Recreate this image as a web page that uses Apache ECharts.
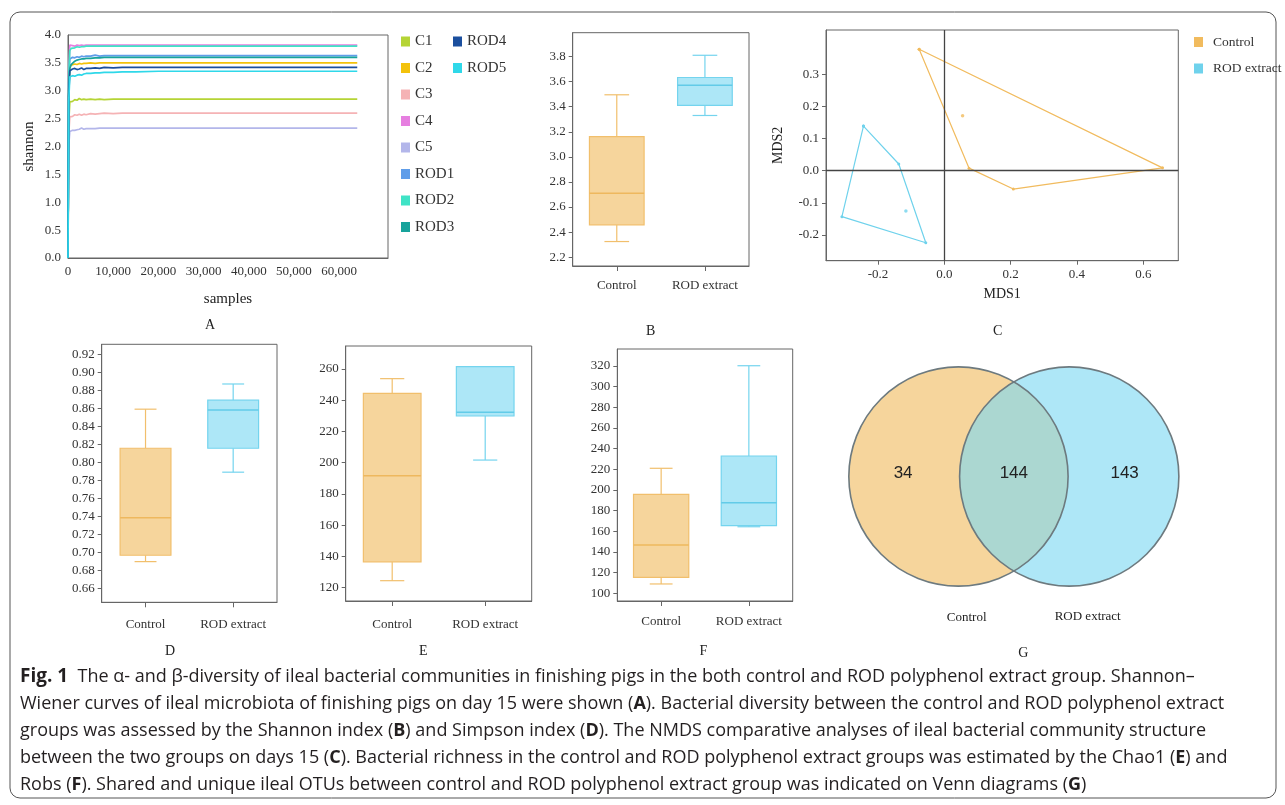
<!DOCTYPE html>
<html><head><meta charset="utf-8">
<script src="https://cdn.jsdelivr.net/npm/echarts@6/dist/echarts.min.js"></script>
<style>html,body{margin:0;padding:0;background:#fff}#c{width:1285px;height:805px}</style>
</head><body><div id="c"></div>
<script>
// ---------- DATA ----------
const samples = [0, 150, 400, 700, 1000, 1500, 2000, 2500, 3000, 3500, 4000, 5000, 6000, 7000, 8000, 10000, 12000, 15000, 20000, 30000, 40000, 50000, 64000];
const shannonC1   = [0, 2.40, 2.80, 2.82, 2.81, 2.84, 2.83, 2.86, 2.84, 2.85, 2.84, 2.85, 2.84, 2.85, 2.84, 2.85, 2.85, 2.85, 2.85, 2.85, 2.85, 2.85, 2.85];
const shannonC2   = [0, 3.00, 3.42, 3.46, 3.45, 3.48, 3.47, 3.49, 3.48, 3.49, 3.49, 3.50, 3.49, 3.50, 3.50, 3.50, 3.50, 3.50, 3.50, 3.50, 3.50, 3.50, 3.50];
const shannonC3   = [0, 2.20, 2.53, 2.55, 2.54, 2.57, 2.56, 2.58, 2.56, 2.58, 2.57, 2.59, 2.58, 2.59, 2.60, 2.59, 2.60, 2.60, 2.60, 2.60, 2.60, 2.60, 2.60];
const shannonC4   = [0, 3.30, 3.82, 3.79, 3.81, 3.80, 3.82, 3.81, 3.82, 3.81, 3.82, 3.82, 3.82, 3.82, 3.82, 3.82, 3.82, 3.82, 3.82, 3.82, 3.82, 3.82, 3.82];
const shannonC5   = [0, 2.00, 2.27, 2.28, 2.29, 2.29, 2.30, 2.31, 2.33, 2.31, 2.32, 2.32, 2.32, 2.33, 2.33, 2.33, 2.33, 2.33, 2.33, 2.33, 2.33, 2.33, 2.33];
const shannonROD1 = [0, 3.10, 3.57, 3.58, 3.60, 3.59, 3.61, 3.60, 3.62, 3.61, 3.62, 3.62, 3.64, 3.62, 3.63, 3.63, 3.63, 3.63, 3.63, 3.63, 3.63, 3.63, 3.63];
const shannonROD2 = [0, 3.20, 3.72, 3.76, 3.78, 3.77, 3.79, 3.78, 3.79, 3.79, 3.80, 3.80, 3.80, 3.80, 3.80, 3.80, 3.80, 3.80, 3.80, 3.80, 3.80, 3.80, 3.80];
const shannonROD3 = [0, 3.00, 3.40, 3.47, 3.50, 3.53, 3.55, 3.56, 3.57, 3.57, 3.58, 3.58, 3.59, 3.59, 3.60, 3.60, 3.60, 3.60, 3.60, 3.60, 3.60, 3.60, 3.60];
const shannonROD4 = [0, 2.90, 3.36, 3.38, 3.39, 3.40, 3.38, 3.39, 3.41, 3.38, 3.40, 3.40, 3.41, 3.40, 3.42, 3.41, 3.42, 3.42, 3.42, 3.42, 3.42, 3.42, 3.42];
const shannonROD5 = [0, 2.80, 3.25, 3.22, 3.27, 3.26, 3.28, 3.29, 3.28, 3.30, 3.31, 3.31, 3.32, 3.32, 3.33, 3.33, 3.34, 3.34, 3.35, 3.35, 3.35, 3.35, 3.35];
const sampleNames = ['C1','C2','C3','C4','C5','ROD1','ROD2','ROD3','ROD4','ROD5'];
const sampleTicks = [0, 10000, 20000, 30000, 40000, 50000, 60000];
const shannonTicksA = [0, 0.5, 1.0, 1.5, 2.0, 2.5, 3.0, 3.5, 4.0];

const groups = ['Control', 'ROD extract'];
// box stats: [min, Q1, median, Q3, max]
const shannonBox = [[2.325, 2.458, 2.71, 3.162, 3.495], [3.33, 3.41, 3.572, 3.633, 3.81]];
const simpsonBox = [[0.6896, 0.6967, 0.7384, 0.8156, 0.859], [0.789, 0.8156, 0.858, 0.869, 0.887]];
const chao1Box   = [[124.5, 136.6, 191.7, 244.4, 253.8], [201.7, 229.9, 232.3, 261.5, 261.5]];
const robsBox    = [[109, 115.4, 146.7, 195.8, 221], [164.4, 165.4, 187.7, 232.9, 320.3]];
const shannonTicksB = [2.2, 2.4, 2.6, 2.8, 3.0, 3.2, 3.4, 3.6, 3.8];
const simpsonTicks = [0.66, 0.68, 0.70, 0.72, 0.74, 0.76, 0.78, 0.80, 0.82, 0.84, 0.86, 0.88, 0.90, 0.92];
const chao1Ticks = [120, 140, 160, 180, 200, 220, 240, 260];
const robsTicks = [100, 120, 140, 160, 180, 200, 220, 240, 260, 280, 300, 320];

// NMDS points (hull order first, inner point last)
const nmdsControl = [[-0.076, 0.378], [0.658, 0.009], [0.208, -0.057], [0.0745, 0.008], [0.055, 0.171]];
const nmdsROD     = [[-0.244, 0.139], [-0.1375, 0.021], [-0.056, -0.224], [-0.309, -0.143], [-0.116, -0.125]];
const mds1Ticks = [-0.2, 0.0, 0.2, 0.4, 0.6];
const mds2Ticks = [-0.2, -0.1, 0.0, 0.1, 0.2, 0.3];

const vennCounts = [34, 144, 143]; // Control only, shared, ROD only

// ---------- STYLE ----------
const SERIF = 'Liberation Serif';
const lineColors = ['#b5d435', '#f3c20c', '#f5b3b5', '#e67fe0', '#b3b6ea', '#5f9de9', '#3fe3c6', '#17a39b', '#1b4f9e', '#2fd8e9'];
const BOX_FILL = ['#f6d59c', '#ade7f7'];
const BOX_STROKE = ['#f1bf6c', '#74d4ee'];
const MED = ['#eeb85e', '#62cbe8'];
const AX = '#666';
const labelStyle = {color: '#333', fontFamily: SERIF, fontSize: 13};

const chart = echarts.init(document.getElementById('c'), null, {renderer: 'canvas'});

function grid(l, t, w, h, show) {
  return {left: l, top: t, width: w, height: h, show: show !== false, borderColor: AX, borderWidth: 1,
          backgroundColor: 'transparent', containLabel: false, outerBoundsMode: 'none'};
}
function valY(gi, min, max, ticks, dec, extra) {
  return Object.assign({
    type: 'value', gridIndex: gi, min: min, max: max, splitLine: {show: false},
    axisLine: {show: true, lineStyle: {color: AX}},
    axisTick: {show: true, length: 4, customValues: ticks, lineStyle: {color: AX}},
    axisLabel: Object.assign({customValues: ticks, margin: 7, formatter: v => Number(v).toFixed(dec)}, labelStyle)
  }, extra || {});
}
function catX(gi, margin) {
  return {
    type: 'category', gridIndex: gi, data: groups,
    axisLine: {show: true, lineStyle: {color: AX}},
    axisTick: {show: true, alignWithLabel: true, length: 5, lineStyle: {color: AX}},
    axisLabel: Object.assign({margin: margin, interval: 0}, labelStyle),
    splitLine: {show: false}
  };
}
function boxRender(bwF, cwF) {
  return function (p, api) {
    const i = p.dataIndex;
    const cat = api.value(0);
    const band = api.size([1, 0])[0];
    const cx = api.coord([cat, api.value(3)])[0];
    const y = k => api.coord([cat, api.value(k)])[1];
    const yMin = y(1), yQ1 = y(2), yMed = y(3), yQ3 = y(4), yMax = y(5);
    const bw = band * bwF, cw = band * cwF;
    const ls = {stroke: BOX_STROKE[i], lineWidth: 1.2};
    return {type: 'group', children: [
      {type: 'line', shape: {x1: cx, y1: yMax, x2: cx, y2: yQ3}, style: ls},
      {type: 'line', shape: {x1: cx, y1: yQ1, x2: cx, y2: yMin}, style: ls},
      {type: 'line', shape: {x1: cx - cw / 2, y1: yMax, x2: cx + cw / 2, y2: yMax}, style: ls},
      {type: 'line', shape: {x1: cx - cw / 2, y1: yMin, x2: cx + cw / 2, y2: yMin}, style: ls},
      {type: 'rect', shape: {x: cx - bw / 2, y: yQ3, width: bw, height: yQ1 - yQ3}, style: {fill: BOX_FILL[i], stroke: BOX_STROKE[i], lineWidth: 1.2}},
      {type: 'line', shape: {x1: cx - bw / 2, y1: yMed, x2: cx + bw / 2, y2: yMed}, style: {stroke: MED[i], lineWidth: 1.5}}
    ]};
  };
}
function boxSeries(gi, stats, bwF, cwF) {
  return {type: 'custom', xAxisIndex: gi, yAxisIndex: gi, clip: false,
          data: stats.map((s, i) => [i].concat(s)), encode: {x: 0, y: [1, 2, 3, 4, 5]},
          renderItem: boxRender(bwF, cwF), silent: true};
}

const shannonSeriesData = [shannonC1, shannonC2, shannonC3, shannonC4, shannonC5, shannonROD1, shannonROD2, shannonROD3, shannonROD4, shannonROD5];

const series = [];
// Panel A: rarefaction lines
sampleNames.forEach((n, k) => {
  series.push({type: 'line', name: n, xAxisIndex: 0, yAxisIndex: 0, showSymbol: false, symbol: 'none',
    color: lineColors[k], lineStyle: {width: 1.7, color: lineColors[k]},
    data: samples.map((s, j) => [s, shannonSeriesData[k][j]])});
});
// Panel B, D, E, F: boxes
series.push(boxSeries(1, shannonBox, 0.62, 0.28));
series.push(boxSeries(3, simpsonBox, 0.58, 0.25));
series.push(boxSeries(4, chao1Box, 0.62, 0.26));
series.push(boxSeries(5, robsBox, 0.63, 0.26));
// Panel C: NMDS
const NM = ['#f1bb5e', '#6fd2ec'];
series.push({type: 'line', name: 'Control', xAxisIndex: 2, yAxisIndex: 2, color: '#f5b042',
  symbol: 'circle', symbolSize: 3, itemStyle: {color: NM[0]}, lineStyle: {color: NM[0], width: 1.2},
  data: nmdsControl.slice(0, 4).concat([nmdsControl[0]]),
  markLine: {silent: true, symbol: ['none', 'none'], label: {show: false},
    lineStyle: {color: '#444', width: 1.3, type: 'solid'}, data: [{xAxis: 0}, {yAxis: 0}]}});
series.push({type: 'scatter', xAxisIndex: 2, yAxisIndex: 2, symbolSize: 3.5, itemStyle: {color: NM[0]}, data: nmdsControl.slice(4)});
series.push({type: 'line', name: 'ROD extract', xAxisIndex: 2, yAxisIndex: 2, color: '#4fd0f0',
  symbol: 'circle', symbolSize: 3, itemStyle: {color: NM[1]}, lineStyle: {color: NM[1], width: 1.2},
  data: nmdsROD.slice(0, 4).concat([nmdsROD[0]])});
series.push({type: 'scatter', xAxisIndex: 2, yAxisIndex: 2, symbolSize: 3.5, itemStyle: {color: NM[1]}, data: nmdsROD.slice(4)});
// Panel G: Venn
const VENN_FILL = ['#f6d59c', 'rgba(124,216,242,0.62)'];
series.push({type: 'custom', xAxisIndex: 6, yAxisIndex: 6, clip: false, silent: true,
  data: groups.map((g, i) => [i + 1, 0]),
  renderItem: (p, api) => {
    const c = api.coord([api.value(0), api.value(1)]);
    const s = api.size([1, 1]);
    return {type: 'circle', shape: {cx: c[0], cy: c[1], r: (s[0] + s[1]) / 2}, style: {fill: VENN_FILL[p.dataIndex]}};
  }});
series.push({type: 'custom', xAxisIndex: 6, yAxisIndex: 6, clip: false, silent: true, z: 3,
  data: groups.map((g, i) => [i + 1, 0]),
  renderItem: (p, api) => {
    const c = api.coord([api.value(0), api.value(1)]);
    const s = api.size([1, 1]);
    return {type: 'circle', shape: {cx: c[0], cy: c[1], r: (s[0] + s[1]) / 2}, style: {fill: 'none', stroke: '#6d7a7f', lineWidth: 1.6}};
  }});
series.push({type: 'custom', xAxisIndex: 6, yAxisIndex: 6, clip: false, silent: true, z: 4,
  data: vennCounts.map((v, i) => [i + 0.5, 0.03, v]),
  renderItem: (p, api) => {
    const c = api.coord([api.value(0), api.value(1)]);
    return {type: 'text', x: c[0], y: c[1], style: {text: String(api.value(2)), fill: '#222',
      fontFamily: 'Liberation Sans', fontSize: 17, align: 'center', verticalAlign: 'middle'}};
  }});

const txt = (t, x, y, size, extra) => ({type: 'text', x: x, y: y, silent: true,
  style: Object.assign({text: t, fill: '#222', fontFamily: SERIF, fontSize: size || 13, align: 'center', verticalAlign: 'middle'}, extra || {})});

const caption =
  '{fig|Fig. 1}  The α- and β-diversity of ileal bacterial communities in finishing pigs in the both control and ROD polyphenol extract group. Shannon–\n' +
  'Wiener curves of ileal microbiota of finishing pigs on day 15 were shown ({b|A}). Bacterial diversity between the control and ROD polyphenol extract\n' +
  'groups was assessed by the Shannon index ({b|B}) and Simpson index ({b|D}). The NMDS comparative analyses of ileal bacterial community structure\n' +
  'between the two groups on days 15 ({b|C}). Bacterial richness in the control and ROD polyphenol extract groups was estimated by the Chao1 ({b|E}) and\n' +
  'Robs ({b|F}). Shared and unique ileal OTUs between control and ROD polyphenol extract group was indicated on Venn diagrams ({b|G})';

const option = {
  animation: false,
  backgroundColor: '#fff',
  grid: [
    grid(68, 35, 320, 223),          // A
    grid(572.7, 32.7, 176.3, 233.3), // B
    grid(826, 30, 352.3, 230.7),     // C
    grid(101.7, 344.3, 175.3, 258),  // D
    grid(345.7, 346, 186, 255),      // E
    grid(617.3, 349, 175.4, 252),    // F
    grid(847.7, 368, 332.3, 217, false) // G
  ],
  xAxis: [
    {type: 'value', gridIndex: 0, min: 0, max: 70800, interval: 10000, splitLine: {show: false},
     axisLine: {show: true, lineStyle: {color: AX}}, axisTick: {show: false},
     axisLabel: Object.assign({customValues: sampleTicks, margin: 7,
       formatter: v => (v % 10000 === 0 ? Number(v).toLocaleString('en-US') : '')}, labelStyle),
     name: 'samples', nameLocation: 'middle', nameGap: 34,
     nameTextStyle: {color: '#222', fontFamily: SERIF, fontSize: 15}},
    catX(1, 13),
    {type: 'value', gridIndex: 2, min: -0.357, max: 0.7056, splitLine: {show: false},
     axisLine: {show: true, onZero: false, lineStyle: {color: AX}},
     axisTick: {show: true, length: 4, customValues: mds1Ticks, lineStyle: {color: AX}},
     axisLabel: Object.assign({customValues: mds1Ticks, margin: 7, formatter: v => Number(v).toFixed(1)}, labelStyle),
     name: 'MDS1', nameLocation: 'middle', nameGap: 27,
     nameTextStyle: {color: '#222', fontFamily: SERIF, fontSize: 14}},
    catX(3, 16),
    catX(4, 17),
    catX(5, 14),
    {type: 'value', gridIndex: 6, min: 0, max: 3, show: false}
  ],
  yAxis: [
    {type: 'value', gridIndex: 0, min: 0, max: 4, interval: 0.5, splitLine: {show: false},
     axisLine: {show: true, lineStyle: {color: AX}}, axisTick: {show: false},
     axisLabel: Object.assign({margin: 7, formatter: v => Number(v).toFixed(1)}, labelStyle),
     name: 'shannon', nameLocation: 'middle', nameGap: 31, nameRotate: 90,
     nameTextStyle: {color: '#222', fontFamily: SERIF, fontSize: 15}},
    valY(1, 2.13, 3.99, shannonTicksB, 1),
    valY(2, -0.280, 0.438, mds2Ticks, 1, {name: 'MDS2', nameLocation: 'middle', nameGap: 41, nameRotate: 90,
      axisLine: {show: true, onZero: false, lineStyle: {color: AX}},
      nameTextStyle: {color: '#222', fontFamily: SERIF, fontSize: 14}}),
    valY(3, 0.6444, 0.9311, simpsonTicks, 2),
    valY(4, 111.5, 274.7, chao1Ticks, 0),
    valY(5, 92.5, 336.5, robsTicks, 0),
    {type: 'value', gridIndex: 6, min: -1, max: 1, show: false}
  ],
  legend: [
    {data: sampleNames.slice(0, 8), orient: 'vertical', left: 396, top: 29, itemWidth: 9, itemHeight: 10,
     itemGap: 11.5, icon: 'rect', selectedMode: false, textStyle: {color: '#333', fontFamily: SERIF, fontSize: 15}},
    {data: sampleNames.slice(8), orient: 'vertical', left: 448, top: 29, itemWidth: 9, itemHeight: 10,
     itemGap: 11.5, icon: 'rect', selectedMode: false, textStyle: {color: '#333', fontFamily: SERIF, fontSize: 15}},
    {data: groups, orient: 'vertical', left: 1189, top: 30, itemWidth: 9, itemHeight: 10, itemGap: 12.5,
     icon: 'rect', selectedMode: false, textStyle: {color: '#333', fontFamily: SERIF, fontSize: 13.5, padding: [0, 0, 0, 5]}}
  ],
  series: series,
  graphic: [
    {type: 'rect', silent: true, shape: {x: 10, y: 12, width: 1266, height: 786, r: 10},
     style: {fill: 'none', stroke: '#555', lineWidth: 1}},
    txt('A', 210, 325, 14), txt('B', 650.7, 331.7, 14), txt('C', 997.7, 331.7, 14),
    txt('D', 170, 651.7, 14), txt('E', 423.3, 651.7, 14), txt('F', 703.3, 651.7, 14), txt('G', 1023.3, 653.3, 14),
    txt('Control', 966.7, 617.7, 13), txt('ROD extract', 1087.7, 616.7, 13),
    {type: 'text', x: 20, y: 663, silent: true,
     style: {text: caption, fill: '#231f20', fontFamily: 'Open Sans', fontSize: 18, lineHeight: 27,
       rich: {
         fig: {fontFamily: 'Open Sans', fontSize: 19, fontWeight: 'bold', fill: '#231f20', lineHeight: 27},
         b: {fontFamily: 'Open Sans', fontSize: 18, fontWeight: 'bold', fill: '#231f20', lineHeight: 27}
       }}}
  ]
};
chart.setOption(option);
</script></body></html>
